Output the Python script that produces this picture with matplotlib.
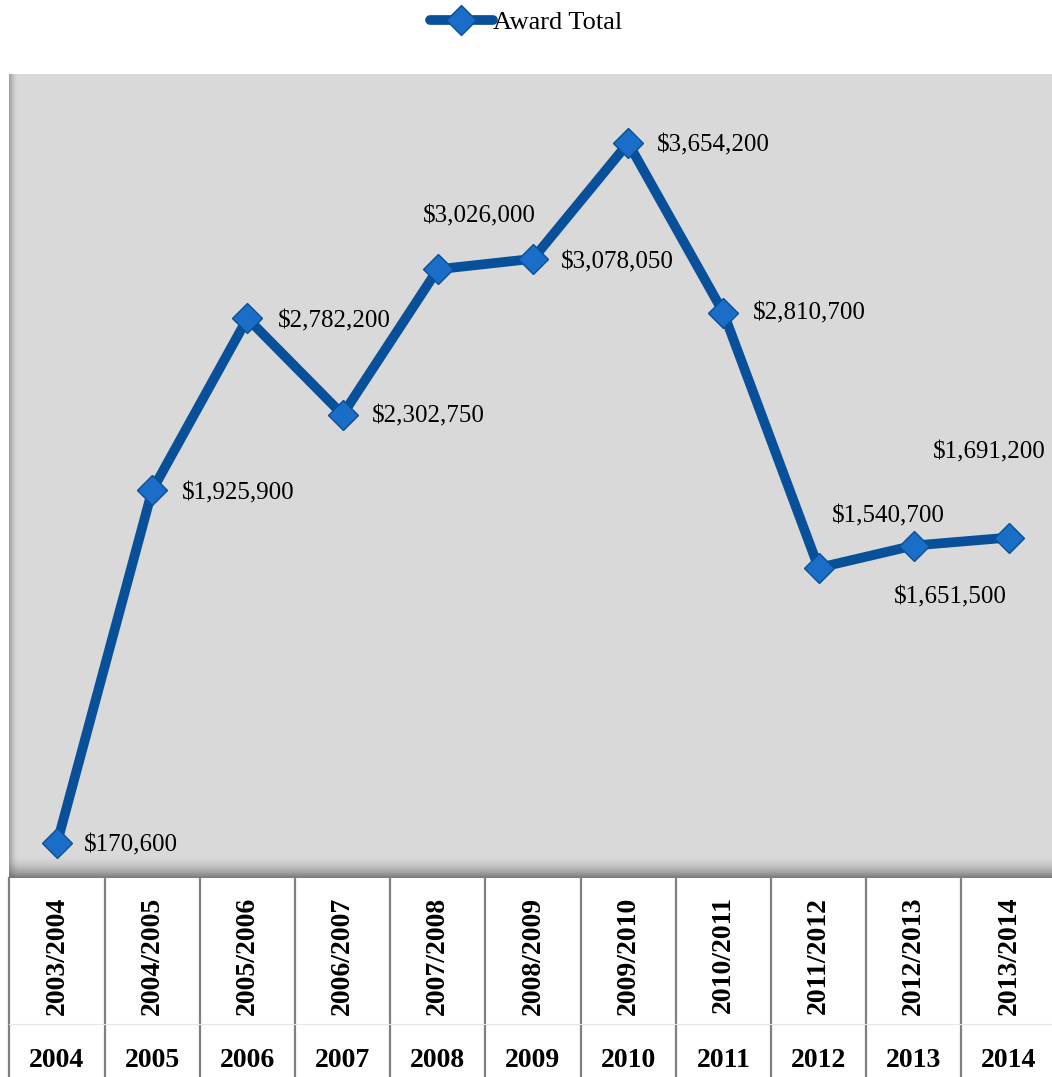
import matplotlib.pyplot as plt
import numpy as np

# dados
seasons = ["2003/2004", "2004/2005", "2005/2006", "2006/2007", "2007/2008", "2008/2009",
           "2009/2010", "2010/2011", "2011/2012", "2012/2013", "2013/2014"]
years = ["2004", "2005", "2006", "2007", "2008", "2009", "2010", "2011", "2012", "2013", "2014"]
award_total = [170600, 1925900, 2782200, 2302750, 3026000, 3078050,
               3654200, 2810700, 1540700, 1651500, 1691200]

# deslocamento dos rótulos (pixels)
label_offsets = [(27, -2), (30, -3), (30, -3), (29, -2), (42, 53), (28, -4),
                 (29, -2), (29, -1), (70, 51), (37, -52), (-20, 85)]
label_align = ["left", "left", "left", "left", "center", "left",
               "left", "left", "center", "center", "center"]

W, H = 1052, 1077
fig = plt.figure(figsize=(W / 100, H / 100), dpi=100)
plt.rcParams['font.family'] = ['Liberation Serif', 'DejaVu Serif']

left, right, top, bottom = 9.4, 1056.6, 73.5, 877.5
ax = fig.add_axes([left / W, 1 - bottom / H, (right - left) / W, (bottom - top) / H])
ax.set_facecolor("#d9d9d9")

x = np.arange(len(seasons))
ax.plot(x, award_total, color="#08509a", lw=7, marker="D", ms=15,
        mfc="#1a6ec8", mec="#0b4f94", mew=1, zorder=5, label="Award Total",
        solid_capstyle="round")

for i, v in enumerate(award_total):
    dx, dy = label_offsets[i]
    ax.annotate("${:,}".format(v), (i, v), xytext=(dx, dy), textcoords="offset pixels",
                ha=label_align[i], va="center", fontsize=18, color="black", zorder=6)

# sombras (gradientes)
bot = np.linspace(0, 1, 40)[:, None]
grad = np.zeros((40, 2, 4))
grad[..., :3] = 0.35
grad[..., 3] = np.repeat(bot ** 2 * 0.75, 2, axis=1)
ax.imshow(grad, extent=(0, 1, 0, 24 / (bottom - top)), transform=ax.transAxes,
          aspect="auto", zorder=1, origin="upper")
lg = np.linspace(1, 0, 20)[None, :]
grad2 = np.zeros((2, 20, 4))
grad2[..., :3] = 0.4
grad2[..., 3] = np.repeat(lg ** 1.5 * 0.5, 2, axis=0)
ax.imshow(grad2, extent=(0, 9 / (right - left), 0, 1), transform=ax.transAxes,
          aspect="auto", zorder=1)

ax.set_xlim(-0.5, 10.5)
ax.set_ylim(0, 4000000)
ax.set_xticks([])
ax.set_yticks([])
for s in ax.spines.values():
    s.set_visible(False)

# eixo de categorias em dois níveis
ph = bottom - top
for b in np.arange(-0.5, 10.6, 1):
    ax.plot([b, b], [0, -198 / ph], transform=ax.get_xaxis_transform(),
            color="#808080", lw=1.6, clip_on=False)
ax.plot([-0.5, 10.5], [-146 / ph, -146 / ph], transform=ax.get_xaxis_transform(),
        color="#e6e6e6", lw=0.8, clip_on=False)
for i in x:
    ax.text(i, -19 / ph, seasons[i], transform=ax.get_xaxis_transform(), rotation=90,
            ha="center", va="top", fontsize=20, fontweight="bold")
    ax.text(i, -183 / ph, years[i], transform=ax.get_xaxis_transform(),
            ha="center", va="center", fontsize=20, fontweight="bold")

fig.legend(loc="upper center", bbox_to_anchor=(0.5, 1.005), frameon=False, fontsize=19,
           handlelength=2.4, handletextpad=0.0, borderaxespad=0.2)

fig.savefig("out.png", dpi=100)
